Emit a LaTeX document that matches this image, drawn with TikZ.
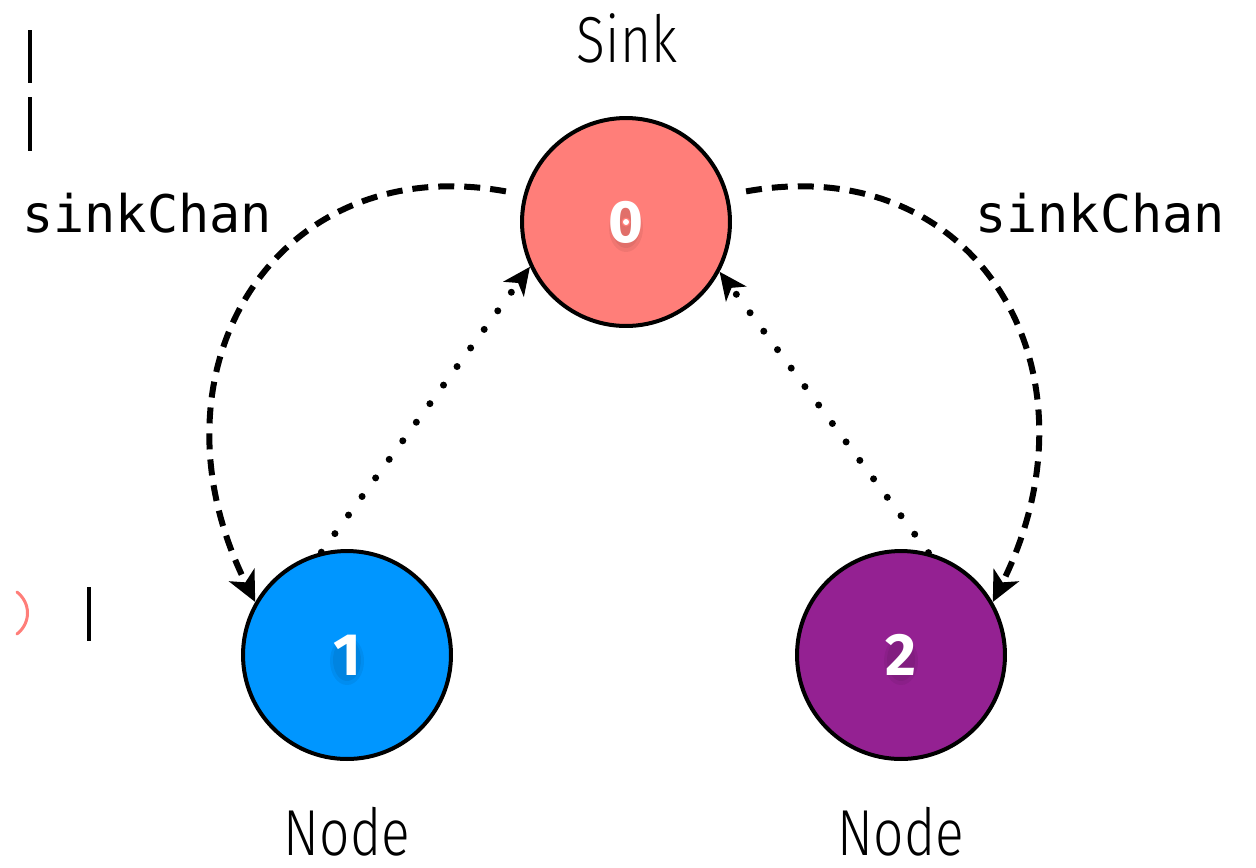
\documentclass[tikz,border=0pt]{standalone}
\usepackage{fontspec}
\usetikzlibrary{arrows.meta}
\newfontfamily\thinfont{Fira Sans Light}
\newfontfamily\codefont{DejaVu Sans Mono}
\newfontfamily\numfont{Fira Sans}
\definecolor{sinkred}{HTML}{FF7E79}
\definecolor{nodeblue}{HTML}{0096FF}
\definecolor{nodepurple}{HTML}{942192}
\definecolor{markpink}{HTML}{FF7E79}

\begin{document}
\begin{tikzpicture}[x=0.02cm,y=-0.02cm,
  vertex/.style={circle,draw=black,line width=0.08cm,minimum size=4.16cm,inner sep=0pt},
  digit/.style={text=white,font=\numfont\bfseries\fontsize{34}{34}\selectfont,inner sep=0pt},
  caption/.style={font=\thinfont\fontsize{37}{37}\selectfont,anchor=base,inner sep=0pt,xscale=0.82},
  chanlabel/.style={font=\codefont\fontsize{29.5}{29.5}\selectfont,anchor=base west,inner sep=0pt},
  chan/.style={line width=0.12cm,dash pattern=on 0.32cm off 0.2cm,
    -{Stealth[length=0.6cm,width=0.56cm,inset=0.16cm]}},
  link/.style={line width=0.14cm,line cap=round,dash pattern=on 0pt off 0.46cm,
    -{Stealth[length=0.55cm,width=0.5cm,inset=0.15cm]}},
  bar/.style={line width=0.075cm}
]
\useasboundingbox (0,0) rectangle (1256,867);

% stray marks at the left edge
\draw[bar] (30,30) -- (30,83);
\draw[bar] (30,97) -- (30,151);
\draw[bar] (89,587) -- (89,641);
\draw[markpink,line width=0.06cm,line cap=round] (17,592) .. controls (31,603) and (31,623) .. (17,634);

% the three processes
\node[vertex,fill=sinkred] (n0) at (626,222) {};
\node[vertex,fill=nodeblue] (n1) at (347,655) {};
\node[vertex,fill=nodepurple] (n2) at (901,655) {};

% soft shadows under the process numbers
\foreach \n in {n0,n1,n2}{
  \fill[black,opacity=0.06] ([shift={(0,6)}]\n) ellipse (17 and 24);
  \fill[black,opacity=0.06] ([shift={(0,5)}]\n) ellipse (14 and 21);
}

% process numbers
\node[digit] (dn0) at (n0) {0};
\node[digit] (dn1) at (n1) {1};
\node[digit] (dn2) at (n2) {2};
\fill[sinkred] (dn0) circle (4.5);
\fill[white] (dn0) circle (3);

% captions
\node[caption] (sink) at (627,62) {Sink};
\node[caption] (lab1) at (347,855) {Node};
\node[caption] (lab2) at (901,855) {Node};
\node[chanlabel] (chanL) at (22,232) {sinkChan};
\node[chanlabel] (chanR) at (975,232) {sinkChan};

% sink channels handed out to the nodes
\draw[chan,shorten <=0.36cm] (n0.165) .. controls +(-250,-45) and +(-115,-230) .. (n1.150);
\draw[chan,shorten <=0.36cm] (n0.15) .. controls +(250,-45) and +(115,-230) .. (n2.30);

% nodes reporting back to the sink
\draw[link] (n1.104) -- (n0.205.6);
\draw[link] (n2.75) -- (n0.-28.5);
\end{tikzpicture}
\end{document}
